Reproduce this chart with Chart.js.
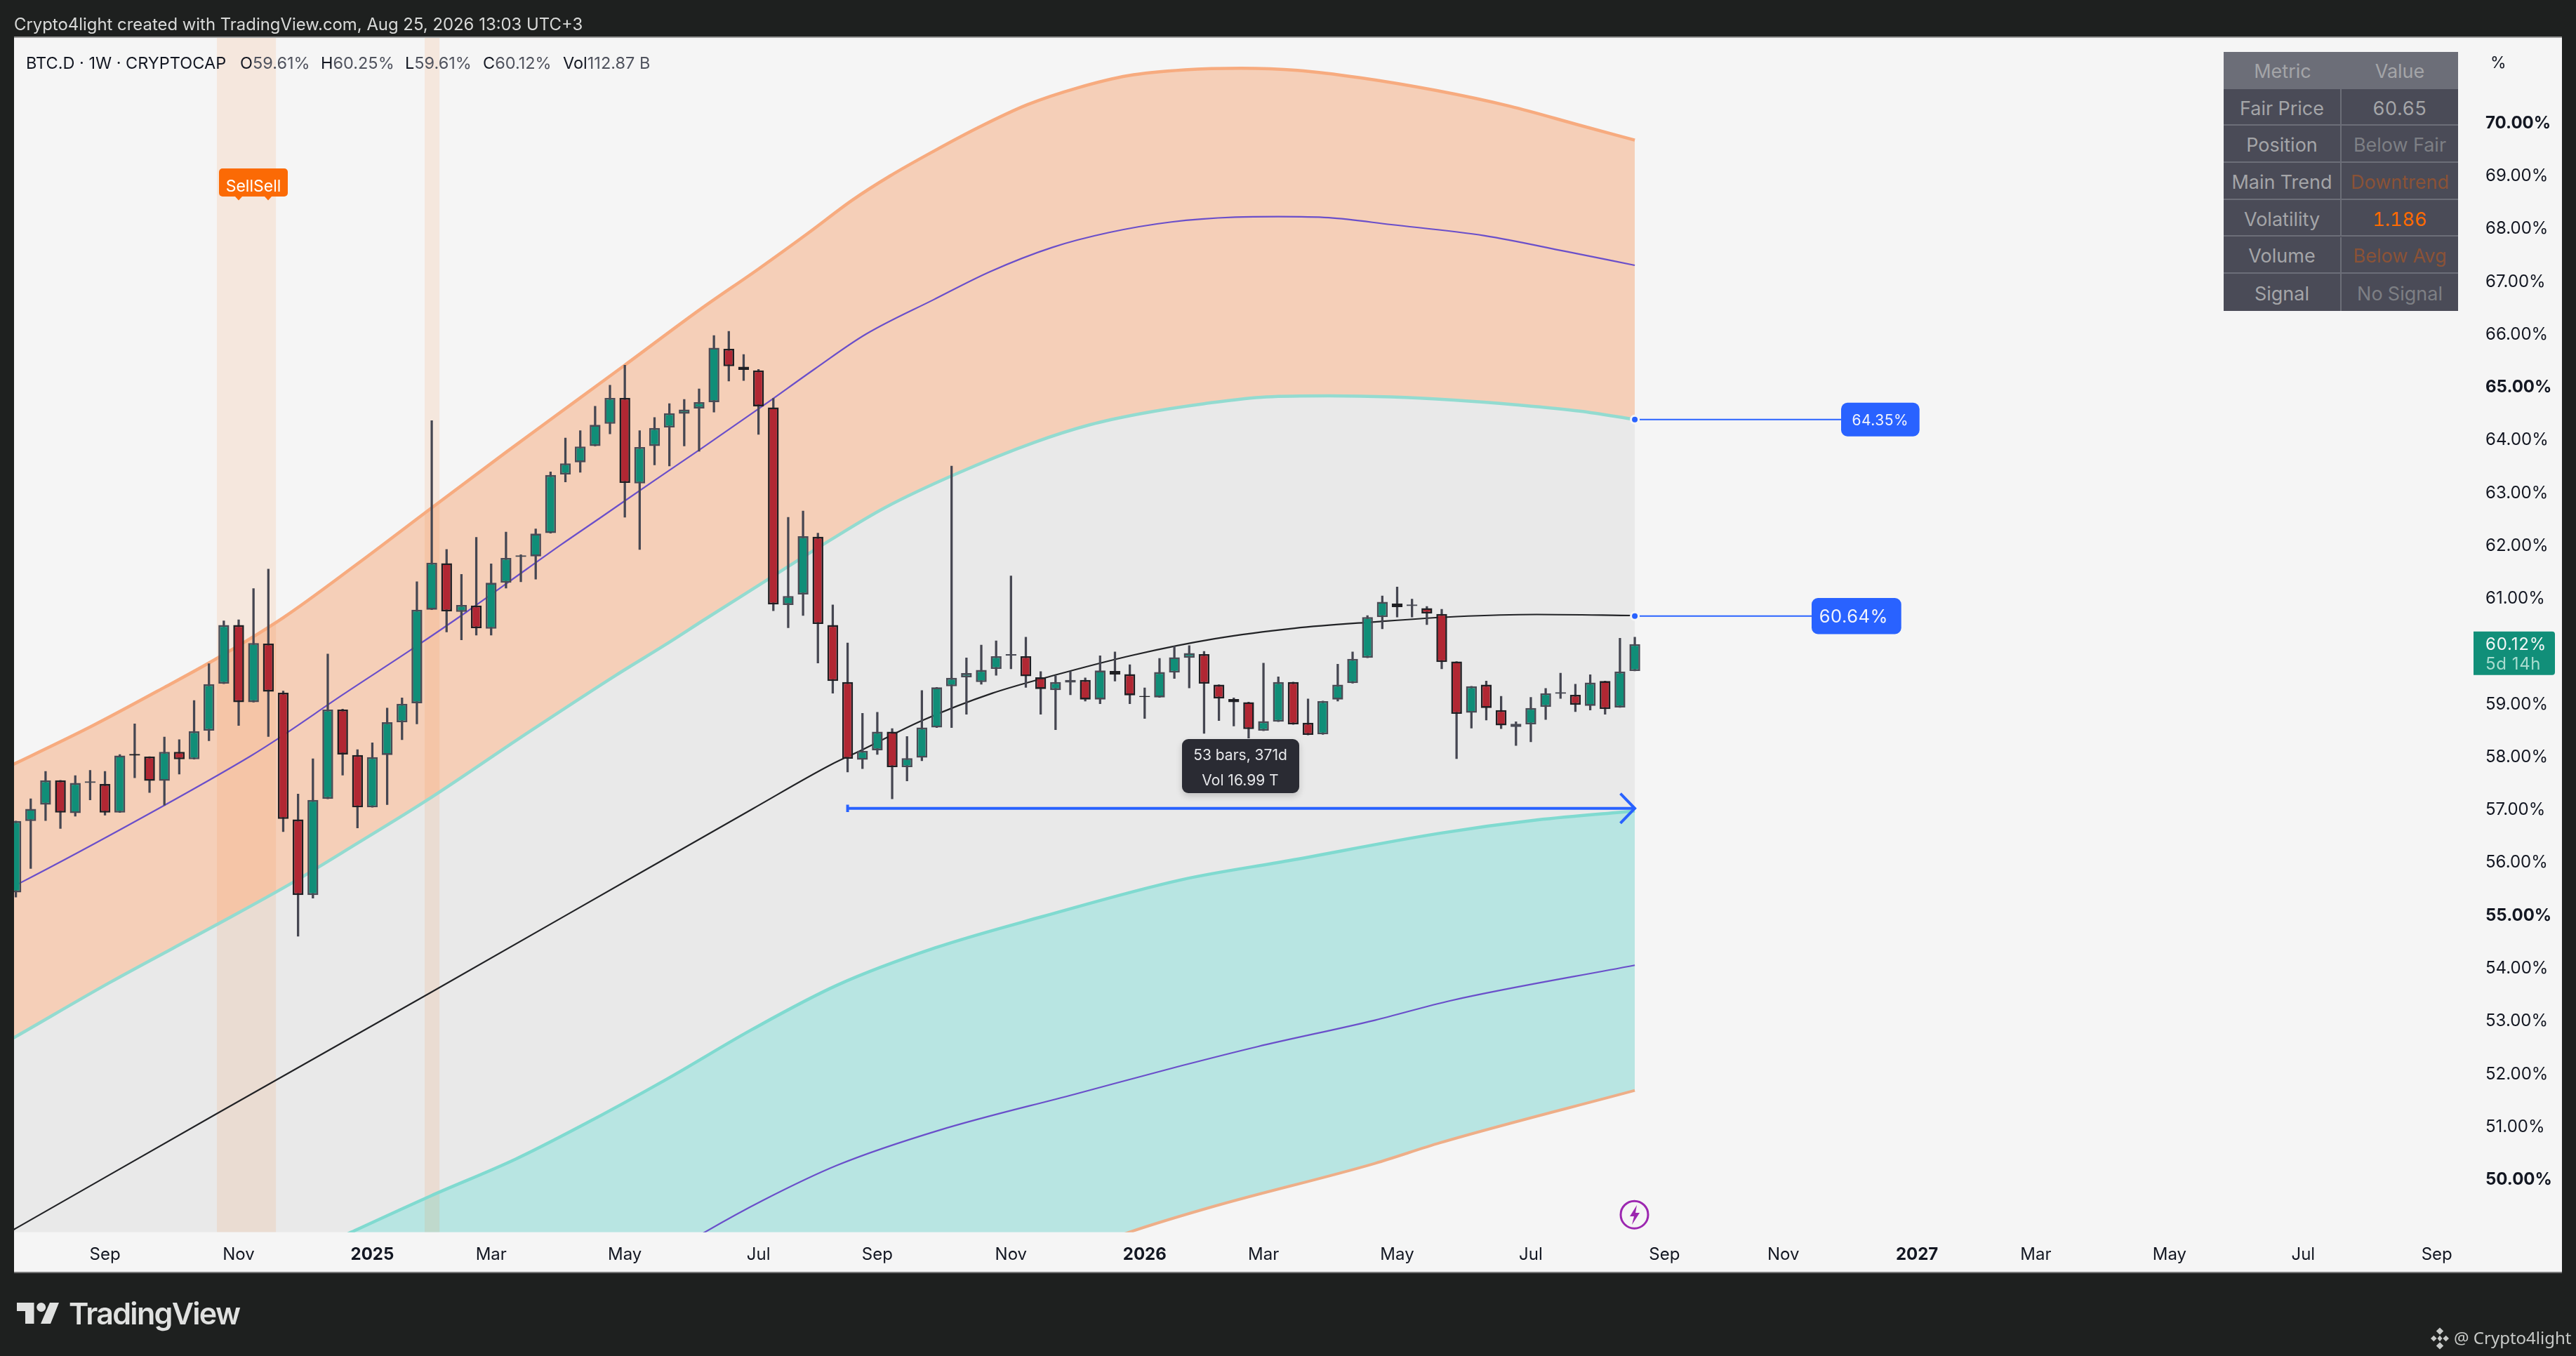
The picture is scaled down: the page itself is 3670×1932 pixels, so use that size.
<!DOCTYPE html>
<html>
<head>
<meta charset="utf-8">
<script src="https://cdn.jsdelivr.net/npm/chart.js@4"></script>
<style>
html,body{margin:0;padding:0;background:#1e201f;width:3670px;height:1932px;overflow:hidden;font-family:Inter,"Noto Sans",sans-serif}
#panel{position:absolute;left:20px;top:54px;width:3630px;height:1758px;background:#f5f5f5;box-shadow:0 -2px 0 #9a9a9a,0 2px 0 #777;}
canvas{position:absolute;left:0;top:0}
.t{position:absolute;white-space:nowrap;line-height:1}
#tbl{position:absolute;left:3168px;top:74px;width:334px;height:369px;background:#4a4b57;font-size:27px;color:#a4a5a8;font-feature-settings:'tnum'}
#tbl div{position:absolute;display:flex;align-items:center;justify-content:center;white-space:nowrap;box-sizing:border-box}
</style>
</head>
<body>
<div id="panel"></div>
<canvas id="c" width="3670" height="1932" style="width:3670px;height:1932px"></canvas>
<div class="t" style="left:20px;top:23px;font-size:23.9px;color:#d8d9d8">Crypto4light created with TradingView.com, Aug 25, 2026 13:03 UTC+3</div>
<div id="legend"></div>
<div id="tbl"></div>
<div class="t" style="left:3548px;top:78px;font-size:23px;color:#131722">%</div>
<svg style="position:absolute;left:2300px;top:1702px" width="58" height="58" viewBox="0 0 58 58">
<circle cx="28.5" cy="28.7" r="19.5" fill="none" stroke="#9c27b0" stroke-width="3"/>
<path d="M32 15 L22 31 L28 31 L25 43 L36 26 L30 26 Z" fill="#9c27b0"/>
</svg>
<svg style="position:absolute;left:20px;top:1850px" width="70" height="42" viewBox="0 0 70 42">
<path d="M4 6 H28.5 V36 H16 V18 H4 Z" fill="#e0e1e0"/><circle cx="38.7" cy="12.5" r="6.5" fill="#e0e1e0"/>
<path d="M51 6 H64 L52 36 H38 Z" fill="#e0e1e0"/>
</svg>
<div class="t" style="left:98px;top:1850px;font-size:43px;font-weight:600;letter-spacing:-1.7px;color:#e0e1e0">TradingView</div>
<svg style="position:absolute;left:3463px;top:1890px" width="26" height="34" viewBox="0 0 30 38" fill="#c8cac8">
<path d="M15 1 L21 7 L15 13 L9 7 Z M5 14 L10 19 L5 24 L0 19 Z M25 14 L30 19 L25 24 L20 19 Z M15 14 L19 19 L15 24 L11 19 Z M15 25 L21 31 L15 37 L9 31 Z"/>
</svg>
<div class="t" style="left:3496px;top:1894px;font-size:24px;font-family:'Noto Sans';color:#c8cac8">@ Crypto4light</div>
<script>
// ---- Candles (weekly BTC.D) ----
const opens=[55.42,56.77,57.08,57.54,56.92,57.49,57.47,56.93,58.04,57.99,57.53,58.08,57.94,58.48,59.37,60.48,59.02,60.13,59.20,56.80,55.37,57.19,58.88,58.02,57.03,58.02,58.64,59.00,60.77,61.65,60.73,60.85,60.41,61.28,61.77,61.78,
62.22,63.33,63.56,63.87,64.29,64.78,63.16,63.87,64.22,64.48,64.58,64.70,65.71,65.37,65.30,64.60,60.86,61.06,62.15,60.48,59.40,57.93,58.11,58.46,57.79,57.97,58.54,59.32,59.49,59.40,59.65,59.90,59.89,59.49,59.25,
59.39,59.44,59.07,59.61,59.55,59.14,59.11,59.58,59.86,59.93,59.35,59.08,59.02,58.48,58.65,59.40,58.63,58.41,59.07,59.38,59.86,60.63,60.89,60.84,60.80,60.69,59.79,58.82,59.35,58.87,58.55,58.60,58.93,59.18,59.16,58.95,59.42,58.92,59.61];
const highs=[56.77,57.19,57.71,57.54,57.63,57.73,57.71,58.03,58.61,57.99,58.36,58.31,59.05,59.75,60.56,60.58,61.17,61.54,59.23,57.28,57.95,59.93,58.89,58.12,58.25,58.91,59.10,61.30,64.35,61.91,61.44,62.14,61.64,62.24,61.81,62.30,
63.38,64.02,64.16,64.62,65.02,65.40,64.16,64.41,64.67,64.75,64.95,65.96,66.04,65.60,65.32,64.77,62.52,62.64,62.22,60.86,60.14,58.81,58.83,58.52,58.37,59.24,59.30,63.49,59.86,60.10,60.18,61.41,60.25,59.60,59.52,
59.60,59.48,59.90,59.97,59.73,59.29,59.85,60.08,60.09,59.98,59.35,59.10,59.02,59.76,59.50,59.40,59.08,59.04,59.74,59.97,60.66,61.03,61.20,60.97,60.83,60.78,59.79,59.32,59.42,59.13,58.65,59.11,59.28,59.57,59.36,59.54,59.42,60.23,60.25];
const lows=[55.33,55.87,56.78,56.63,56.86,57.17,56.88,56.93,57.59,57.31,57.07,57.66,57.94,58.29,59.37,58.58,59.02,58.37,56.57,54.59,55.31,57.19,57.64,56.64,57.03,57.08,58.31,58.61,60.77,60.35,60.20,60.29,60.29,61.18,61.30,61.35,
62.22,63.19,63.37,63.87,64.10,62.52,61.91,63.51,63.49,63.87,63.77,64.51,65.10,65.11,64.09,60.75,60.43,60.66,59.76,59.19,57.70,57.76,58.03,57.19,57.53,57.91,58.54,58.54,58.79,59.36,59.53,59.65,59.30,58.79,58.50,
59.16,59.04,58.99,59.42,58.99,58.71,59.11,59.47,59.29,58.43,58.67,58.57,58.34,58.48,58.65,58.60,58.40,58.41,59.04,59.38,59.86,60.41,60.63,60.63,60.49,59.65,57.95,58.53,58.68,58.52,58.20,58.27,58.69,59.09,58.84,58.87,58.79,58.92,59.61];
const closes=[56.77,57.00,57.54,56.93,57.49,57.52,56.93,58.01,58.01,57.53,58.08,57.94,58.47,59.36,60.48,59.02,60.14,59.22,56.81,55.37,57.17,58.88,58.03,57.03,57.98,58.64,58.99,60.77,61.66,60.74,60.86,60.42,61.28,61.75,61.80,62.21,
63.32,63.54,63.86,64.27,64.78,63.17,63.85,64.21,64.49,64.56,64.70,65.73,65.38,65.31,64.62,60.87,61.03,62.16,60.50,59.42,57.95,58.10,58.46,57.79,57.96,58.54,59.30,59.48,59.57,59.63,59.89,59.93,59.51,59.27,59.40,
59.44,59.07,59.62,59.54,59.15,59.12,59.59,59.87,59.95,59.37,59.09,59.02,58.51,58.66,59.40,58.60,58.40,59.04,59.35,59.84,60.63,60.92,60.82,60.87,60.70,59.78,58.80,59.32,58.91,58.58,58.61,58.91,59.19,59.21,58.97,59.39,58.89,59.60,60.12];

// ---- Band curves: [bar index list, value list], read at knots ----
const upperOuterX=[-1,5,10,13.6,18,23,28,33,37.7,41,46.2,50,53.4,56.3,58.85,61.8,64.75,68.1,71.5,74.9,78.7,82.5,86.3,90.5,95.6,100.6,105.3,109];
const upperOuterY=[57.73,58.55,59.30,59.86,60.62,61.64,62.70,63.75,64.72,65.40,66.48,67.22,67.91,68.52,68.98,69.45,69.89,70.33,70.65,70.88,70.99,71.02,70.98,70.84,70.60,70.30,69.94,69.66];
const upperMidX=[-1,0.3,8.6,15.8,17.6,22,26.7,30.3,34.4,36.7,39.4,42.8,46.2,50.4,53.8,57.2,61.8,65.6,69.8,73.6,77.8,82.1,85,88.4,92.6,98.9,104.4,109];
const upperMidY=[55.42,55.60,56.85,58.00,58.32,59.16,60.03,60.72,61.54,62.00,62.52,63.18,63.83,64.65,65.33,65.98,66.64,67.17,67.63,67.91,68.11,68.20,68.21,68.19,68.06,67.85,67.55,67.29];
const upperInnerX=[-1,0,6.3,13.4,18.6,23,27.6,34.4,40.4,43.8,46.4,50.5,54.9,58.5,63.3,68.6,72.3,75.7,80,84.2,88.4,92.6,96.8,101,105.3,109];
const upperInnerY=[52.53,52.69,53.71,54.79,55.60,56.35,57.15,58.43,59.53,60.12,60.59,61.32,62.10,62.70,63.34,63.94,64.27,64.48,64.67,64.80,64.82,64.80,64.74,64.65,64.53,64.37];
const fairX=[-1,0,13.4,27.9,42.3,49.6,54.9,57,61,65.75,69.8,75.2,80.7,86.1,91.5,97,102.4,109];
const fairY=[48.90,49.06,51.21,53.52,55.83,57.00,57.84,58.12,58.67,59.19,59.52,59.91,60.22,60.42,60.54,60.64,60.68,60.66];
const lowerInnerX=[-1,12,22.6,27.9,33.65,38,43.8,49.6,55.35,61.9,69.1,78.5,85.7,95.9,102.4,109];
const lowerInnerY=[45.9,47.6,48.99,49.67,50.37,50.99,51.88,52.83,53.67,54.37,54.96,55.66,56.02,56.54,56.79,56.96];
const lowerMidX=[40,46.4,50.3,55.35,62.2,71.3,78.5,83.6,91.5,96.6,109];
const lowerMidY=[47.9,48.99,49.59,50.26,50.92,51.60,52.14,52.50,53.00,53.37,54.04];
const lowerOuterX=[-1,40,60,75,80.7,91.5,95.9,109];
const lowerOuterY=[40,45.2,47.4,48.99,49.48,50.29,50.68,51.67];

// ---- Annotations ----
const sellZones=[[13.53,17.52],[27.52,28.53]];
const arrowStart=56, lastBar=109, arrowLevel=57.01;
const leaderLevels=[64.37,60.65], leaderLabels=['64.35%','60.64%'];
const priceLast='60.12%', priceCountdown='5d 14h';

// ---- Axis labels ----
const yTickValues=[50,51,52,53,54,55,56,57,58,59,60,61,62,63,64,65,66,67,68,69,70];
const yBoldTicks=[50,55,65,70];
const xTickValues=[6,15,24,32,41,50,58,67,76,84,93,102,111,119,128,136,145,154,163];
const xTickLabels=['Sep','Nov','2025','Mar','May','Jul','Sep','Nov','2026','Mar','May','Jul','Sep','Nov','2027','Mar','May','Jul','Sep'];

// ---- Table & legend text ----
const tableRows=[['Metric','Value'],['Fair Price','60.65'],['Position','Below Fair'],['Main Trend','Downtrend'],['Volatility','1.186'],['Volume','Below Avg'],['Signal','No Signal']];
const tableColors=['#a4a5a8','#a4a5a8','#7d7f84','#8a5236','#ff6a00','#8a5236','#7d7f84'];
const legendItems=[[37,'BTC.D · 1W · CRYPTOCAP',''],[342,'O','59.61%'],[457,'H','60.25%'],[577,'L','59.61%'],[688,'C','60.12%'],[802,'Vol','112.87 B']];

const legendEl=document.getElementById('legend');
legendItems.forEach(([x,a,b])=>{const d=document.createElement('div');d.className='t';d.style.cssText='left:'+x+'px;top:78px;font-size:23.5px;color:#131722';d.textContent=a;if(b){const s=document.createElement('span');s.style.color='#50535e';s.textContent=b;d.appendChild(s);}legendEl.appendChild(d);});
const tbl=document.getElementById('tbl');
const colX=[0,168],colW=[168,166],rowH=52.7;
tableRows.forEach((r,ri)=>{r.forEach((txt,ci)=>{const d=document.createElement('div');
 const y=ri*rowH;
 d.style.cssText='left:'+colX[ci]+'px;top:'+y+'px;width:'+colW[ci]+'px;height:'+rowH+'px;padding-top:'+(ri?4:2)+'px;color:'+(ci==0?'#a4a5a8':tableColors[ri]);
 if(ri===0)d.style.background='#6c6e78';
 if(ri>0){d.style.borderRight=ci==0?'2px solid #6c6e78':'none';d.style.borderBottom=ri<6?'2px solid #6c6e78':'none';}
 d.textContent=txt;tbl.appendChild(d);});});

const zip=(xs,ys)=>xs.map((x,i)=>({x,y:ys[i]}));
const barIndex=opens.map((_,i)=>i);
const yMin=48.986,yMax=71.594,xMin=-0.123,xMax=165.47;
const UP='#108e78',DOWN='#b12733',UPB='#4a4b55',DOWNB='#1f1f23',WICK='#454651';
const isUp=i=>closes[i]>=opens[i];
const isDoji=i=>Math.abs(closes[i]-opens[i])<0.035;
const bodyFill=barIndex.map(i=>isDoji(i)?(isUp(i)?UPB:DOWNB):(isUp(i)?UP:DOWN));
const bodyLine=barIndex.map(i=>isUp(i)?UPB:DOWNB);

const band=(label,xs,ys,color,width,extra)=>Object.assign({type:'line',label,data:zip(xs,ys),borderColor:color,borderWidth:width,pointRadius:0,cubicInterpolationMode:'monotone',fill:false,order:5},extra||{});
const datasets=[
 band('Zone A',sellZones[0],[yMax,yMax],'transparent',0,{tension:0,cubicInterpolationMode:'default',fill:'start',backgroundColor:'rgba(245,130,50,0.12)',order:6}),
 band('Zone B',sellZones[1],[yMax,yMax],'transparent',0,{tension:0,cubicInterpolationMode:'default',fill:'start',backgroundColor:'rgba(245,130,50,0.12)',order:6}),
 band('Upper outer',upperOuterX,upperOuterY,'#f7ab7f',4.5,{fill:{target:3},backgroundColor:'#f5cfb8',order:20}),
 band('Upper inner',upperInnerX,upperInnerY,'#93dbd0',4.5,{fill:{target:4},backgroundColor:'#e9e9e9',order:19}),
 band('Lower inner',lowerInnerX,lowerInnerY,'#80dad0',4.5,{fill:{target:5},backgroundColor:'#b8e5e2',order:18}),
 band('Lower outer',lowerOuterX,lowerOuterY,'#eeae88',4,{order:17}),
 band('Upper mid',upperMidX,upperMidY,'#6a4fca',2.2),
 band('Lower mid',lowerMidX,lowerMidY,'#6a4fca',2.2),
 band('Fair',fairX,fairY,'#222326',2.2),
 {type:'bar',label:'Wicks',data:barIndex.map(i=>({x:i,y:[lows[i],highs[i]]})),backgroundColor:WICK,barThickness:2.6,grouped:false,order:2},
 {type:'bar',label:'Bodies',data:barIndex.map(i=>({x:i,y:[opens[i],closes[i]]})),backgroundColor:bodyFill,borderColor:bodyLine,borderWidth:2.6,borderSkipped:false,inflateAmount:0,barThickness:15.4,grouped:false,order:1},
 {type:'line',label:'Level',data:[{x:arrowStart,y:arrowLevel},{x:lastBar,y:arrowLevel}],borderColor:'#2962ff',borderWidth:4,pointRadius:0,order:0},
 {type:'line',label:'Level head',data:[{x:lastBar-0.97,y:arrowLevel+0.28},{x:lastBar,y:arrowLevel},{x:lastBar-0.97,y:arrowLevel-0.28}],borderColor:'#2962ff',borderWidth:4,pointRadius:0,order:0},
 {type:'line',label:'Level cap',data:[{x:arrowStart,y:arrowLevel+0.07},{x:arrowStart,y:arrowLevel-0.07}],borderColor:'#2962ff',borderWidth:4,pointRadius:0,order:0},
 {type:'line',label:'Leader 1',data:[{x:lastBar,y:leaderLevels[0]},{x:123,y:leaderLevels[0]}],borderColor:'#2962ff',borderWidth:2,pointRadius:[5.5,0],pointBackgroundColor:'#2962ff',pointBorderColor:'#f5f5f5',pointBorderWidth:3,order:0},
 {type:'line',label:'Leader 2',data:[{x:lastBar,y:leaderLevels[1]},{x:122,y:leaderLevels[1]}],borderColor:'#2962ff',borderWidth:2,pointRadius:[5.5,0],pointBackgroundColor:'#2962ff',pointBorderColor:'#f5f5f5',pointBorderWidth:3,order:0}
];

function rr(ctx,x,y,w,h,r){ctx.beginPath();ctx.roundRect(x,y,w,h,r);}
const annot={id:'annot',afterDatasetsDraw(chart){
 const ctx=chart.ctx,Y=chart.scales.y;ctx.save();
 ctx.textBaseline='middle';ctx.textAlign='center';
 // leader labels
 const boxes=[[2623,111.7,48,21],[2581,127.7,51.4,25.5]];
 leaderLabels.forEach((t,k)=>{const yy=Y.getPixelForValue(leaderLevels[k]);const b=boxes[k];
  ctx.fillStyle='#2962ff';rr(ctx,b[0],yy-b[2]/2,b[1],b[2],9);ctx.fill();
  ctx.letterSpacing='0.5px';ctx.fillStyle='#f2f4fb';ctx.font=b[3]+'px Inter';ctx.fillText(t,b[0]+b[1]/2-(k?4:0),yy+2);ctx.letterSpacing='0px';});
 // sell signal
 ctx.fillStyle='#fb6a05';rr(ctx,312,240,98,40,5);ctx.fill();
 [340,382].forEach(px=>{ctx.beginPath();ctx.moveTo(px-5,280);ctx.lineTo(px+5,280);ctx.lineTo(px,285.5);ctx.closePath();ctx.fill();});
 ctx.fillStyle='#fff';ctx.font='23px Inter';ctx.fillText('SellSell',361,266);
 // measure box
 ctx.save();ctx.shadowColor='rgba(0,0,0,.18)';ctx.shadowBlur=10;ctx.shadowOffsetY=4;ctx.fillStyle='#2a2b33';rr(ctx,1684,1053,167,77,9);ctx.fill();ctx.restore();
 ctx.fillStyle='#e6e7ea';ctx.font='21px Inter';ctx.fillText('53 bars, 371d',1767,1077);ctx.fillText('Vol 16.99 T',1767,1113);
 // last price tag
 const py=Y.getPixelForValue(60.12);ctx.fillStyle='#118f79';ctx.beginPath();ctx.roundRect(3524,py-18,116,62,[0,4,4,0]);ctx.fill();
 ctx.textAlign='left';ctx.letterSpacing='0.8px';ctx.fillStyle='#f4f7f6';ctx.font='24px Inter';ctx.fillText(priceLast,3541,py+1);
 ctx.letterSpacing='0.6px';ctx.fillStyle='#a8dccf';ctx.fillText(priceCountdown,3541,py+29);ctx.letterSpacing='0px';
 ctx.restore();
}};

new Chart(document.getElementById('c'),{
 data:{datasets},
 plugins:[annot],
 options:{
  responsive:false,animation:false,devicePixelRatio:1,
  layout:{padding:{left:20,right:20,top:54,bottom:120.3}},
  plugins:{legend:{display:false},tooltip:{enabled:false},filler:{drawTime:'beforeDatasetsDraw',propagate:false}},
  scales:{
   x:{type:'linear',offset:false,min:xMin,max:xMax,grid:{display:false,drawTicks:false},border:{display:false},
    afterBuildTicks:s=>{s.ticks=xTickValues.map(v=>({value:v}));},
    afterFit:s=>{s.height=56;},
    ticks:{autoSkip:false,maxRotation:0,padding:18,color:'#131722',
     font:c=>({family:'Inter',size:24,weight:(c.tick&&/^20/.test(xTickLabels[xTickValues.indexOf(c.tick.value)]))?'700':'400'}),
     callback:v=>xTickLabels[xTickValues.indexOf(v)]}},
   y:{type:'linear',position:'right',min:yMin,max:yMax,grid:{display:false,drawTicks:false},border:{display:false},
    afterBuildTicks:s=>{s.ticks=yTickValues.map(v=>({value:v}));},
    afterFit:s=>{s.width=126;},
    ticks:{autoSkip:false,crossAlign:'near',padding:17,labelOffset:1.5,color:'#131722',
     font:c=>({family:'Inter',size:24,weight:(c.tick&&yBoldTicks.includes(c.tick.value))?'700':'400'}),
     callback:v=>v===60?'':v.toFixed(2)+'%'}}
  }
 }
});
</script>
</body>
</html>
